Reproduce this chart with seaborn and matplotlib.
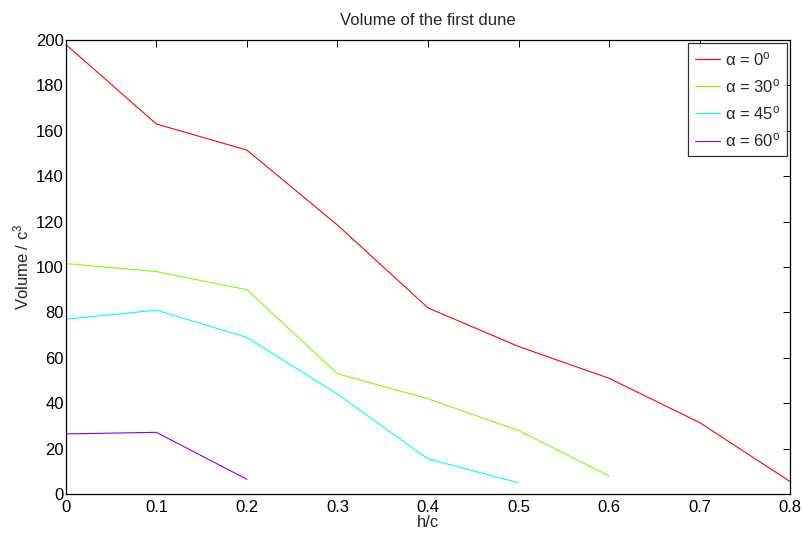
import numpy as np
import pandas as pd
import seaborn as sns
import matplotlib
matplotlib.use("Agg")
import matplotlib.pyplot as plt

# --- data ---
h_c = [0.0, 0.1, 0.2, 0.3, 0.4, 0.5, 0.6, 0.7, 0.8]
vol_0 = [198, 163, 151.5, 118.5, 82, 65, 51, 31.5, 5.5]
vol_30 = [101.5, 98, 90, 53, 42, 28, 8]
vol_45 = [77, 81, 69, 44, 15.5, 5]
vol_60 = [26.5, 27.2, 6.5]
labels = ["α = 0$^\\mathrm{o}$", "α = 30$^\\mathrm{o}$",
          "α = 45$^\\mathrm{o}$", "α = 60$^\\mathrm{o}$"]
colors = ["#ff0000", "#80ff00", "#00ffff", "#8000ff"]

frames = []
for lab, v in zip(labels, [vol_0, vol_30, vol_45, vol_60]):
    frames.append(pd.DataFrame({"h/c": h_c[:len(v)], "vol": v, "alpha": lab}))
df = pd.concat(frames, ignore_index=True)

sns.set_style("white")
plt.rcParams.update({
    "font.family": ["Liberation Sans", "DejaVu Sans"], "font.size": 12,
    "mathtext.fontset": "custom", "mathtext.rm": "Liberation Sans",
    "mathtext.it": "Liberation Sans:italic",
    "xtick.direction": "in", "ytick.direction": "in",
    "xtick.top": True, "ytick.right": True,
    "axes.linewidth": 0.9, "axes.edgecolor": "black",
})

fig = plt.figure(figsize=(8.03, 5.33), dpi=100)
ax = fig.add_axes([0.082, 0.073, 0.902, 0.852])
sns.lineplot(data=df, x="h/c", y="vol", hue="alpha", palette=colors,
             linewidth=0.8, ax=ax)

ax.set_xlim(0, 0.8)
ax.set_ylim(0, 200)
ax.set_xticks(np.arange(0, 0.81, 0.1))
ax.set_xticklabels(["0", "0.1", "0.2", "0.3", "0.4", "0.5", "0.6", "0.7", "0.8"])
ax.set_yticks(np.arange(0, 201, 20))
ax.tick_params(length=5, width=0.7, colors="black", labelsize=12)
ax.tick_params(axis="x", pad=4)
ax.tick_params(axis="y", pad=1.5)
for s in ax.spines.values():
    s.set_visible(True)
ax.set_xlabel("h/c", labelpad=0)
ax.set_ylabel("Volume / c$^3$", labelpad=3)
ax.set_title("Volume of the first dune", fontsize=12, pad=11)

leg = ax.legend(loc="upper right", frameon=True, fancybox=False,
                edgecolor="black", fontsize=12, handlelength=1.5,
                borderaxespad=0.2, labelspacing=0.55, handletextpad=0.3,
                borderpad=0.4)
leg.get_frame().set_linewidth(0.9)

fig.savefig("out.png", dpi=100)
